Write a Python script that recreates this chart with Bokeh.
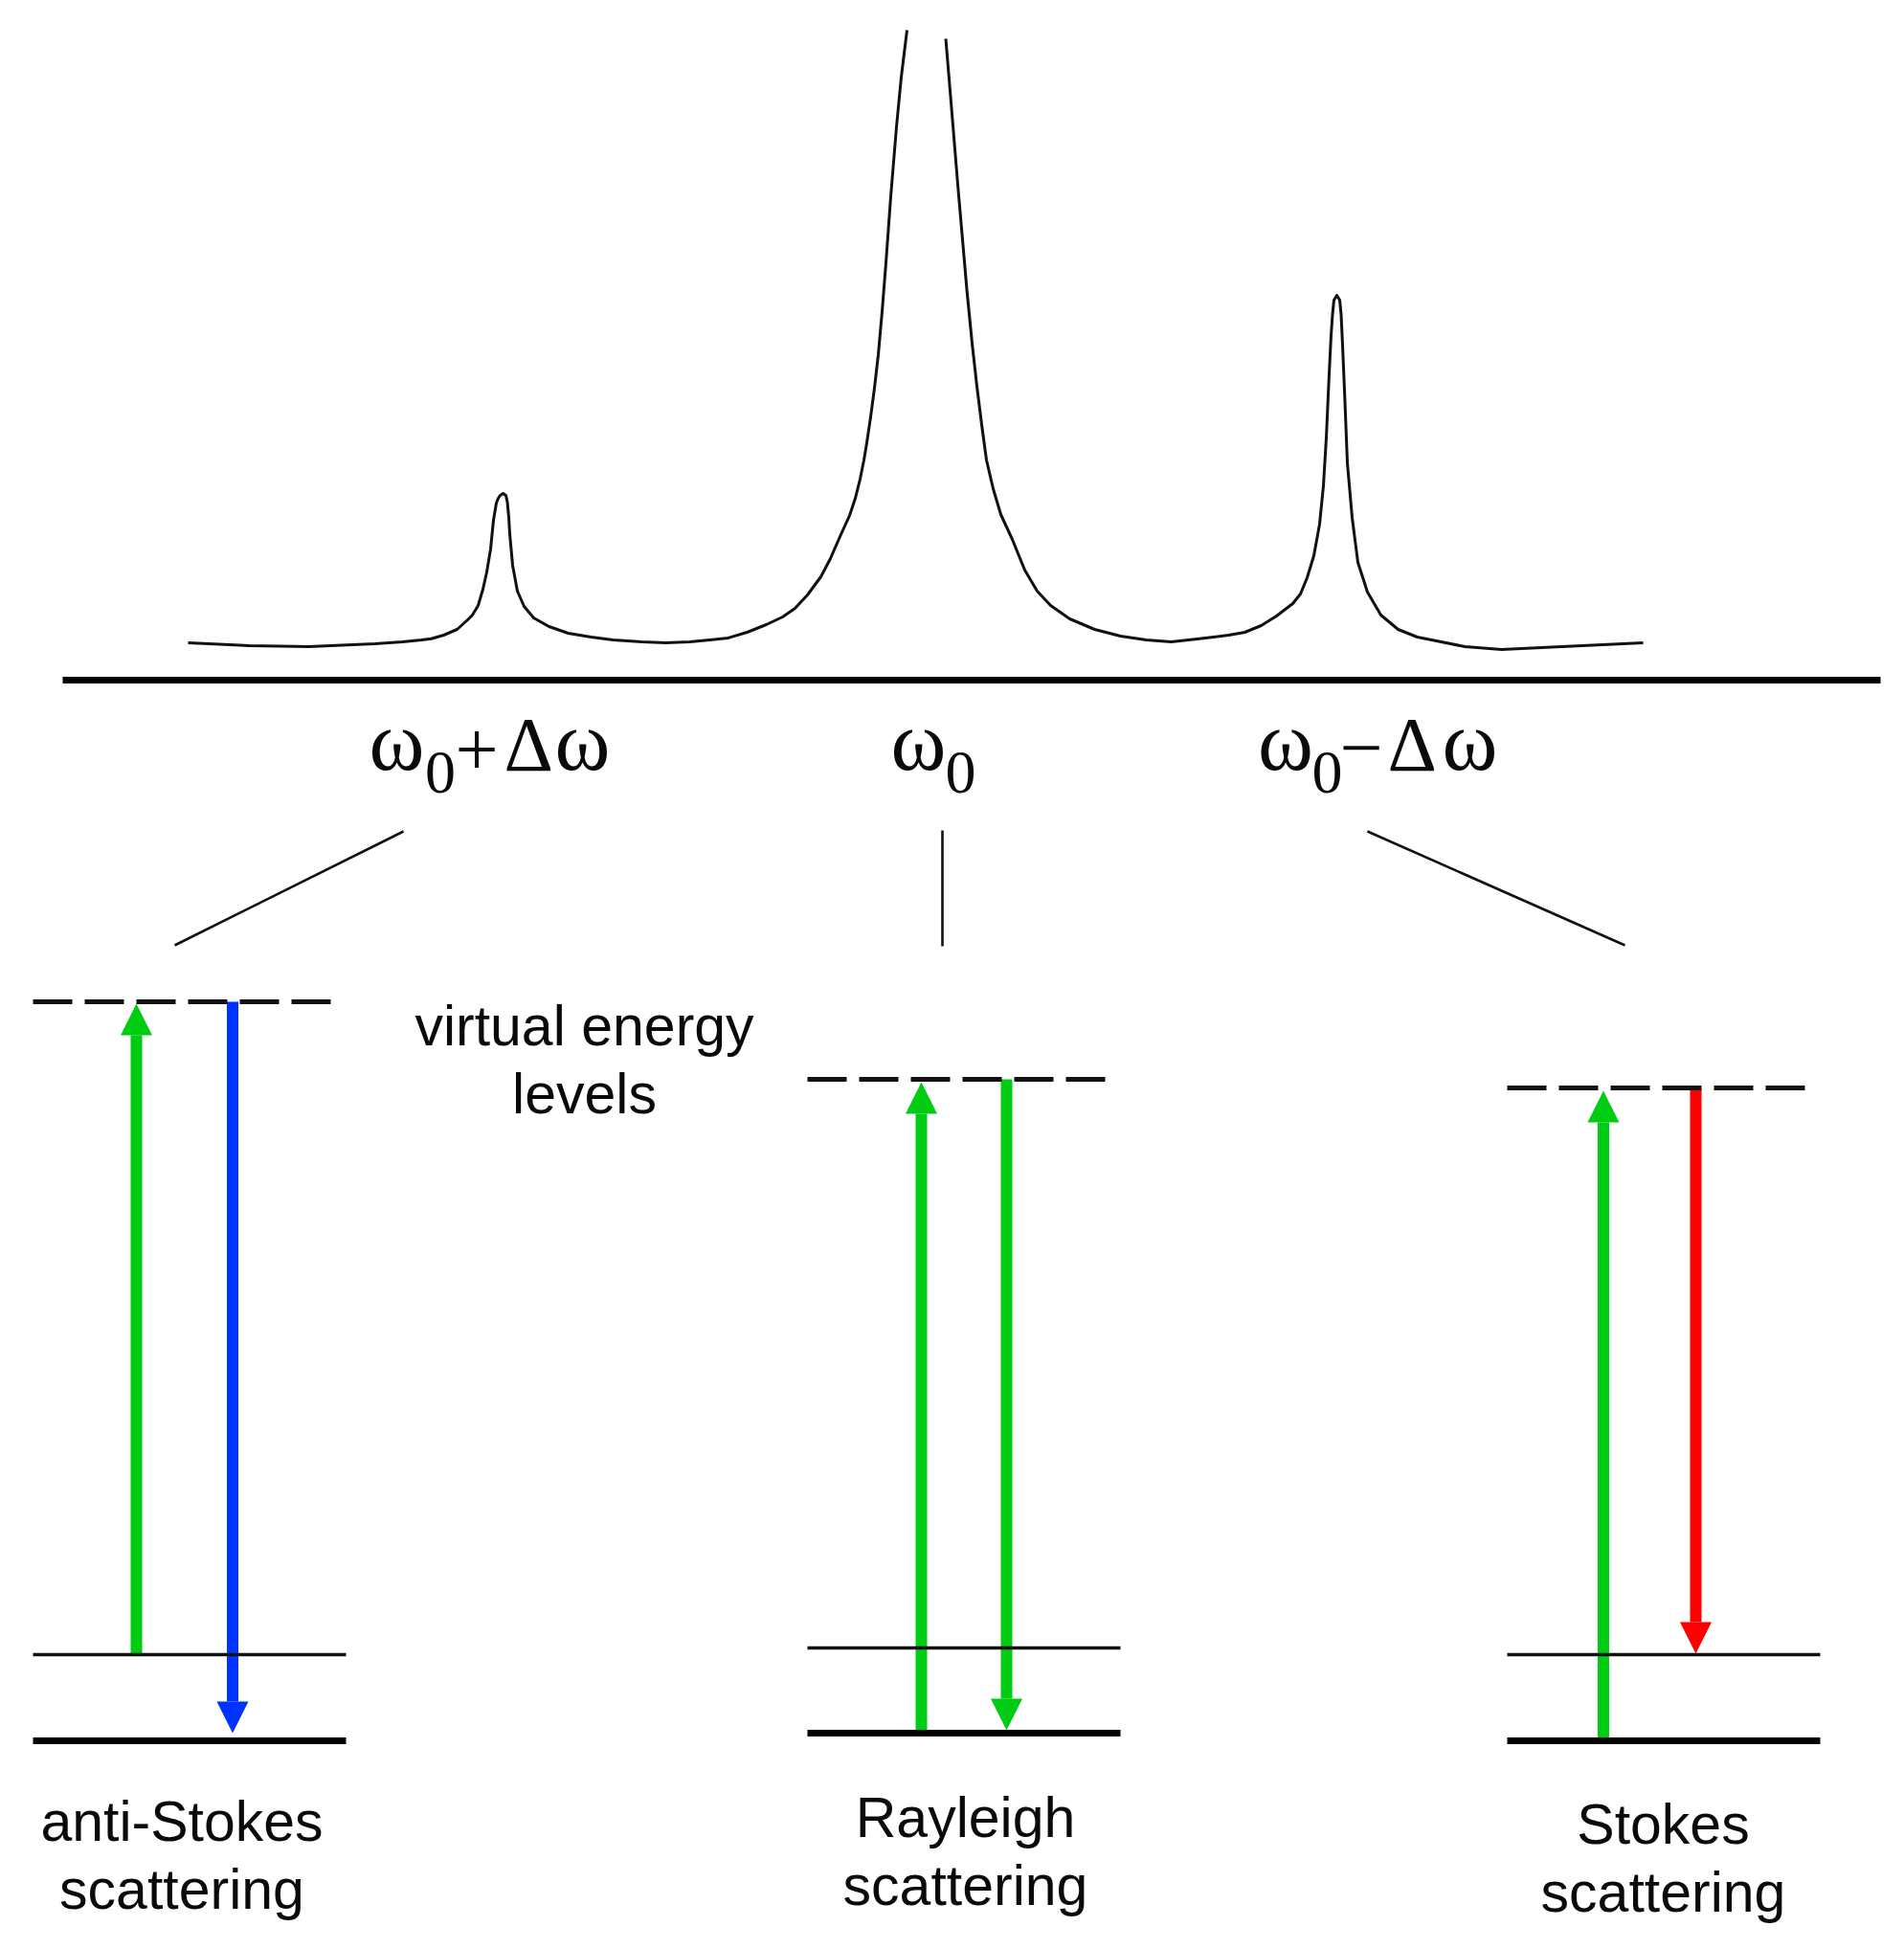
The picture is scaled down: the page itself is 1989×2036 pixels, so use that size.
from bokeh.plotting import figure
from bokeh.core.properties import value
from bokeh.models import Range1d, Arrow, NormalHead
from bokeh.embed import file_html
from bokeh.resources import INLINE

# spectrum (left branch up to the gap at the central peak)
spec_left_x = [196, 260, 322, 391, 420, 440, 450, 463, 477, 487, 493, 499, 504, 508, 512, 515, 518, 520, 522, 525, 528, 529.5, 531, 532, 535, 540, 547, 557, 573, 593, 617, 640, 670, 695, 720, 741, 760, 780, 800, 817, 830, 843, 857, 867, 877, 887, 893, 898, 902, 905, 909, 913, 917, 921, 925, 930, 936, 941, 947]
spec_left_y = [671, 674, 675, 672, 670, 668, 666.7, 663, 657, 648, 642, 632, 615, 597, 573, 543, 525, 520, 517, 515, 517, 524, 540, 557, 590, 617, 633, 645, 654, 661, 665, 668, 670, 671, 670, 668, 666, 660, 652, 644, 635, 621, 602, 583, 560, 538, 520, 500, 480, 462, 435, 405, 370, 325, 274, 205, 132, 80, 31]
spec_right_x = [987.5, 991, 1000, 1009.5, 1015, 1020, 1025, 1030, 1037, 1045, 1057, 1070, 1083, 1097, 1117, 1143, 1170, 1197, 1223, 1250, 1283, 1300, 1317, 1333, 1350, 1358, 1365, 1372, 1378, 1382, 1385, 1388, 1390, 1391.5, 1393, 1396, 1399, 1400.5, 1402, 1404, 1407, 1412, 1418, 1428, 1442, 1460, 1480, 1500, 1530, 1568, 1631, 1716]
spec_right_y = [40, 82, 192, 302, 358, 403, 443, 480, 510, 537, 563, 595, 617, 632, 646, 657, 664, 668, 670, 667, 663, 660, 653, 643, 630, 620, 603, 580, 547, 507, 457, 390, 350, 328, 313, 308, 313, 328, 360, 407, 483, 540, 587, 618, 642, 657, 665, 669, 675, 678, 675, 671]

axis_x = [65, 1964]
axis_y = [710, 710]

connector_x0 = [421, 984, 1428]
connector_y0 = [868, 867, 868]
connector_x1 = [182, 984, 1697]
connector_y1 = [987, 988, 987]

level_x0 = [34, 843, 1574]
level_x1 = [361, 1170, 1901]
thin_y = [1728, 1721, 1728]
thick_y = [1818, 1810, 1818]
virtual_x1 = [347, 1157, 1888]
virtual_y = [1046, 1127, 1136]

arrow_x = [142, 242.5, 962, 1051, 1674.5, 1771]
arrow_start = [1729, 1046, 1810, 1127, 1818, 1137]
arrow_end = [1048, 1810, 1130, 1807, 1139, 1727]
arrow_color = ["#00CC14", "#0033FF", "#00CC14", "#00CC14", "#00CC14", "#FF0000"]

label_text = ["virtual energy", "levels", "anti-Stokes", "scattering", "Rayleigh", "scattering", "Stokes", "scattering"]
label_x = [610, 610, 189.5, 189.5, 1008, 1008, 1737, 1737]
label_y = [1071, 1142, 1902, 1973, 1898, 1969, 1905, 1976]

omega_text = ["ω", "ω", "ω", "ω", "ω"]
omega_x = [385, 579, 930, 1313.5, 1506]
omega_y = [774, 774, 774, 774, 774]
sub_text = ["0", "0", "0"]
sub_x = [443.5, 987, 1370]
sub_y = [806, 806, 806]
symbol_text = ["+", "Δ", "−", "Δ"]
symbol_x = [475, 526, 1399, 1449]
symbol_y = [783, 777, 781, 777]

p = figure(width=1973, height=2020, output_backend="svg", toolbar_location=None,
           x_range=Range1d(0, 1973), y_range=Range1d(2020, 0), min_border=0,
           x_axis_type=None, y_axis_type=None, outline_line_color=None)
p.xgrid.visible = False
p.ygrid.visible = False
p.background_fill_color = "white"

for ax, ay in [(spec_left_x, spec_left_y), (spec_right_x, spec_right_y)]:
    p.line(ax, ay, line_color="#111111", line_width=3, line_join="round")
p.line(axis_x, axis_y, line_color="black", line_width=7)
p.segment(connector_x0, connector_y0, connector_x1, connector_y1, line_color="#111111", line_width=2.6)

for x, s, e, c in zip(arrow_x, arrow_start, arrow_end, arrow_color):
    p.add_layout(Arrow(end=NormalHead(size=33, fill_color=c, line_color=c, line_width=0),
                       x_start=x, y_start=s, x_end=x, y_end=e,
                       line_color=c, line_width=12, level="underlay"))

p.segment(level_x0, thin_y, level_x1, thin_y, line_color="#111111", line_width=3.4)
p.segment(level_x0, thick_y, level_x1, thick_y, line_color="black", line_width=7)
p.segment(level_x0, virtual_y, virtual_x1, virtual_y, line_color="#111111", line_width=5, line_dash=value([41, 13]))

p.text(label_x, label_y, text=label_text, text_font=value("Liberation Sans"), text_font_size=value("59px"),
       text_align="center", text_baseline="alphabetic", text_color="#0a0a0a")
p.text(omega_x, omega_y, text=omega_text, text_font=value("Liberation Serif"), text_font_size=value("88px"),
       text_align="left", text_baseline="alphabetic", text_color="#0a0a0a")
p.text(symbol_x, symbol_y, text=symbol_text, text_font=value("Liberation Serif"), text_font_size=value("80px"),
       text_align="left", text_baseline="alphabetic", text_color="#0a0a0a")
p.text(sub_x, sub_y, text=sub_text, text_font=value("Liberation Serif"), text_font_size=value("64px"),
       text_align="left", text_baseline="alphabetic", text_color="#0a0a0a")

open("out.html", "w").write(file_html(p, INLINE))
